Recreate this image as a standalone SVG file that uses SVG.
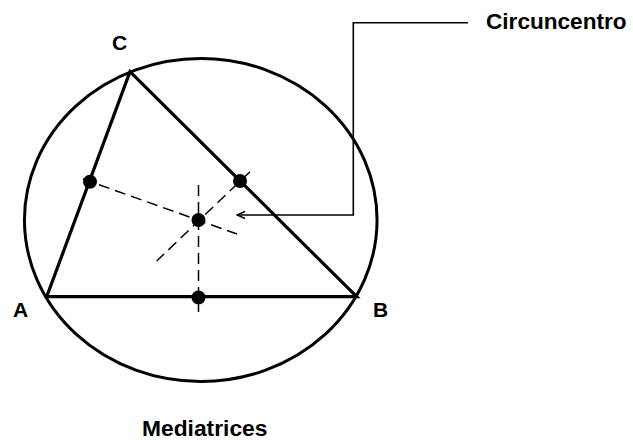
<svg xmlns="http://www.w3.org/2000/svg" width="633" height="440" viewBox="0 0 633 440">
  <style>
    .lbl { font-family: "Liberation Sans", Arial, sans-serif; font-weight: bold; fill: #000; }
    .thick { fill: none; stroke: #000; stroke-width: 3.2; stroke-linejoin: miter; }
    .dash { fill: none; stroke: #000; stroke-width: 1.5; stroke-dasharray: 11 6; }
    .dot { fill: #000; }
    .leader { fill: none; stroke: #000; stroke-width: 1.6; }
  </style>
  <defs>
    <marker id="openArrow" viewBox="0 0 10 10" refX="9" refY="5" markerWidth="10" markerHeight="10" markerUnits="userSpaceOnUse" orient="auto">
      <path d="M1,1.5 L9,5 L1,8.5" fill="none" stroke="#000" stroke-width="1.4"/>
    </marker>
  </defs>
  <rect width="633" height="440" fill="#fff"/>

  <g id="circumcircle">
    <ellipse cx="200.75" cy="220" rx="176.3" ry="161.5" class="thick" style="stroke-width:3"/>
  </g>

  <g id="triangle">
    <polygon points="46.7,296.7 356.7,296.7 130,71.7" class="thick"/>
  </g>

  <g id="connectors">
    <line class="dash" x1="83" y1="179" x2="237" y2="234"/>
    <line class="dash" x1="250" y1="171.7" x2="156.7" y2="261"/>
    <line class="dash" x1="198.5" y1="185" x2="198.5" y2="312"/>
    <polyline class="leader" points="468,22.7 353.3,22.7 353.3,215 237,215" marker-end="url(#openArrow)"/>
  </g>

  <g id="midpoint-AC"><circle class="dot" cx="90" cy="181.7" r="7"/></g>
  <g id="midpoint-BC"><circle class="dot" cx="240" cy="181" r="7"/></g>
  <g id="midpoint-AB"><circle class="dot" cx="198.5" cy="297.5" r="7"/></g>
  <g id="circumcenter"><circle class="dot" cx="198.5" cy="220" r="7"/></g>

  <g id="label-A"><text class="lbl" x="13" y="317" font-size="21">A</text></g>
  <g id="label-B"><text class="lbl" x="373" y="317" font-size="21">B</text></g>
  <g id="label-C"><text class="lbl" x="112" y="50" font-size="21">C</text></g>
  <g id="label-circuncentro"><text class="lbl" x="486" y="29" font-size="22.6">Circuncentro</text></g>
  <g id="title"><text class="lbl" x="142" y="436" font-size="22.8">Mediatrices</text></g>
</svg>
